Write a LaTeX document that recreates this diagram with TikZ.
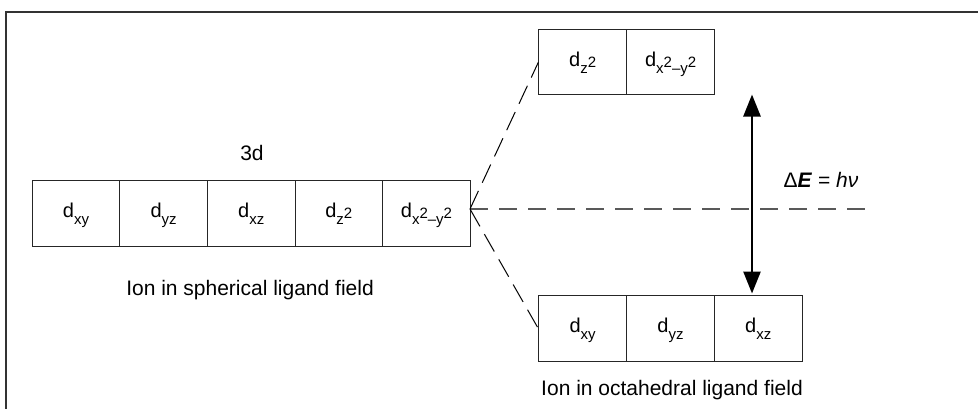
\documentclass[tikz,border=0pt]{standalone}
\usepackage{fontspec}
\setmainfont{Liberation Sans}
\usetikzlibrary{arrows.meta}

% d-orbital label: lowered subscript, with the squares raised back up
\newcommand\dorb[1]{d\raisebox{-7pt}{\fontsize{15}{15}\selectfont #1}}
\newcommand\sqr{\raisebox{6pt}{2}}

\tikzset{
  orb/.style={draw=black!85, line width=1.1pt, anchor=north west,
    minimum width=87.6pt, minimum height=#1, inner sep=0pt,
    text height=15pt, text depth=7pt,
    font=\fontsize{20}{24}\selectfont},
  orb/.default=66pt,
  caption/.style={anchor=base, inner sep=0pt, font=\fontsize{21}{25}\selectfont},
  levelline/.style={draw=black!65, line width=1.4pt, dash pattern=on 18pt off 11pt},
  splitline/.style={draw=black, line width=1pt, dash pattern=on 20pt off 9pt},
  gap/.style={line width=2.6pt,
    {Triangle[length=22pt,width=17pt]}-{Triangle[length=22pt,width=17pt]}}
}

\begin{document}
\begin{tikzpicture}[x=1pt, y=-1pt]
\useasboundingbox (0,0) rectangle (978,408);

% outer frame
\draw[black!80, line width=1.2pt] (6,412) -- (6,12) -- (982,12);

% free ion: five degenerate 3d orbitals
\node[orb] (s1) at (31.7,180) {\dorb{xy}};
\node[orb] (s2) at (119.3,180) {\dorb{yz}};
\node[orb] (s3) at (206.9,180) {\dorb{xz}};
\node[orb] (s4) at (294.5,180) {\dorb{z\sqr}};
\node[orb] (s5) at (382.1,180) {\dorb{x\sqr–y\sqr}};
\node[caption] (lab3d) at (252,160) {3d};
\node[caption] (labsph) at (250,295) {Ion in spherical ligand field};

% octahedral field: e_g pair above, t_2g triple below
\node[orb=65pt] (e1) at (538.3,29.3) {\dorb{z\sqr}};
\node[orb=65pt] (e2) at (626.3,29.3) {\dorb{x\sqr–y\sqr}};
\node[orb] (t1) at (538.3,295) {\dorb{xy}};
\node[orb] (t2) at (626.1,295) {\dorb{yz}};
\node[orb] (t3) at (713.9,295) {\dorb{xz}};
\node[caption] (laboct) at (672,395) {Ion in octahedral ligand field};

% splitting lines
\coordinate (split) at (470,209);
\coordinate (levelend) at (870,209);
\path[levelline] (split) -- (levelend);
\path[splitline] (split) -- (e1.west);
\path[splitline] (split) -- (t1.west);

% energy gap
\coordinate (gtop) at (752,94.5);
\coordinate (gbot) at (752,293.5);
\draw[gap] (gtop) -- (gbot);
\node[caption] (labgap) at (821,187) {Δ\textbf{\textit{E}} = \textit{hν}};
\end{tikzpicture}
\end{document}
